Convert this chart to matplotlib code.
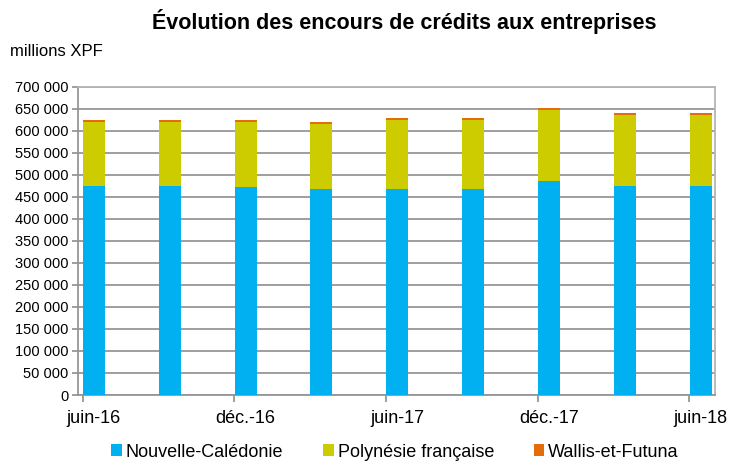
import matplotlib
matplotlib.use("Agg")
import matplotlib.pyplot as plt
from matplotlib.ticker import FuncFormatter, MultipleLocator
import numpy as np

plt.rcParams['font.family'] = ['Liberation Sans', 'DejaVu Sans']

dates = ["juin-16", "sept.-16", "déc.-16", "mars-17", "juin-17",
         "sept.-17", "déc.-17", "mars-18", "juin-18"]
nouvelle_caledonie = [475700, 475700, 472000, 468000, 468000, 468000, 487000, 476000, 476000]
polynesie = [144000, 144300, 148000, 148600, 156000, 156000, 160000, 160000, 160000]
wallis = [4800, 4800, 4800, 4800, 4800, 4800, 4800, 4800, 4800]
series_names = ["Nouvelle-Calédonie", "Polynésie française", "Wallis-et-Futuna"]
colors = ["#00B0F0", "#CCCC00", "#E46C0A"]

x = np.arange(len(dates))
fig = plt.figure(figsize=(7.33, 4.61), dpi=100)
ax = fig.add_axes([78 / 733, 1 - 395 / 461, (715 - 78) / 733, (395 - 87) / 461])

bottom = np.zeros(len(dates))
for vals, name, c in zip([nouvelle_caledonie, polynesie, wallis], series_names, colors):
    ax.bar(x, vals, width=0.29, bottom=bottom, color=c, label=name, zorder=3)
    bottom += np.array(vals)

ax.set_xlim(-0.21, 8.19)
ax.set_ylim(0, 700000)
ax.yaxis.set_major_locator(MultipleLocator(50000))
ax.yaxis.set_major_formatter(FuncFormatter(lambda v, p: f"{int(v):,}".replace(",", " ")))
ax.grid(axis="y", color="#969696", linewidth=1.3, zorder=0)

# labels centred under bars, tick marks at bar left edges
ax.set_xticks(x[::2])
ax.set_xticklabels(dates[::2], fontsize=13)
ax.tick_params(axis="x", length=0, pad=11)
ax.set_xticks(x[::2] - 0.15, minor=True)
ax.tick_params(axis="x", which="minor", length=5, color="#969696", width=1.3)
ax.tick_params(axis="y", labelsize=10.5, length=4, color="#969696", width=1.3, pad=3)

for s in ax.spines.values():
    s.set_color("#969696")
    s.set_linewidth(1.3)
ax.spines["top"].set_color("#B4B4B4")
ax.spines["right"].set_color("#B4B4B4")

fig.text(404 / 733, 1 - 22 / 461, "Évolution des encours de crédits aux entreprises",
         ha="center", va="center", fontsize=15.5, fontweight="bold")
fig.text(10 / 733, 1 - 52 / 461, "millions XPF", ha="left", va="center", fontsize=12)

fig.legend(loc="center", bbox_to_anchor=(395 / 733, 1 - 452 / 461), ncol=3,
           frameon=False, fontsize=13, handlelength=0.6, handleheight=0.6,
           handletextpad=0.2, columnspacing=2.2)

fig.savefig("out.png", dpi=100)
